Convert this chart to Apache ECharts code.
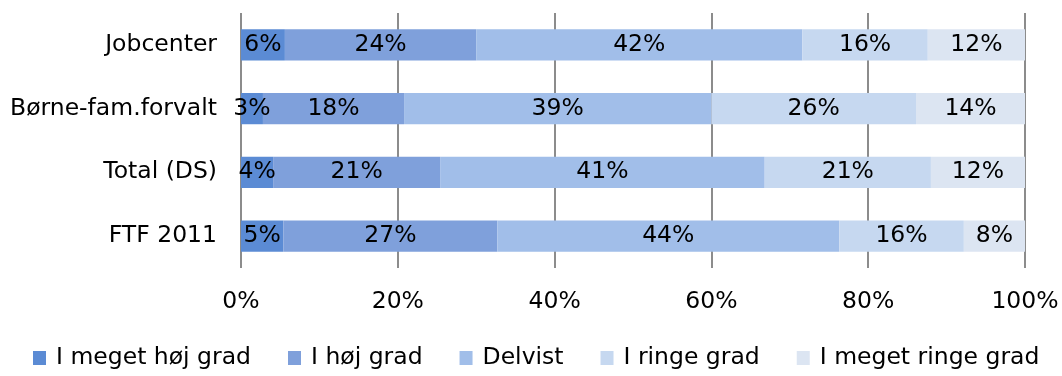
<!DOCTYPE html>
<html><head><meta charset="utf-8">
<script src="https://cdn.jsdelivr.net/npm/echarts@6/dist/echarts.min.js"></script>
<style>html,body{margin:0;padding:0;background:#fff}#c{width:1062px;height:376px}</style>
</head><body><div id="c"></div>
<script>
const categories = ['Jobcenter', 'Børne-fam.forvalt', 'Total (DS)', 'FTF 2011'];
const seriesNames = ['I meget høj grad', 'I høj grad', 'Delvist', 'I ringe grad', 'I meget ringe grad'];
const meget_hoej = [5.6, 2.8, 4.1, 5.4];
const hoej = [24.4, 18.0, 21.3, 27.3];
const delvist = [41.6, 39.2, 41.4, 43.6];
const ringe = [16.0, 26.1, 21.2, 15.9];
const meget_ringe = [12.4, 13.9, 12.0, 7.8];
const xTicks = ['0%', '20%', '40%', '60%', '80%', '100%'];
const colors = ['#5B8BD4', '#7FA0DB', '#A1BEE9', '#C6D8F0', '#DCE5F2'];
const FONT = 'DejaVu Sans';
const FS = 23.5;
const values = [meget_hoej, hoej, delvist, ringe, meget_ringe];
const chart = echarts.init(document.getElementById('c'));
chart.setOption({
  animation: false,
  textStyle: {fontFamily: FONT},
  grid: {left: 241, right: 37, top: 13, bottom: 108, containLabel: false},
  xAxis: {
    type: 'value', min: 0, max: 100, interval: 20,
    axisLine: {show: false}, axisTick: {show: false},
    splitLine: {show: true, lineStyle: {color: '#8c8c8c', width: 2}},
    axisLabel: {color: '#000', fontSize: FS, fontFamily: FONT, margin: 22,
      formatter: (v) => xTicks[Math.round(v / 20)]}
  },
  yAxis: {
    type: 'category', data: categories, inverse: true,
    axisLine: {show: false}, axisTick: {show: false},
    axisLabel: {color: '#000', fontSize: FS, fontFamily: FONT, margin: 24}
  },
  legend: {
    bottom: 1, left: 28, itemWidth: 13, itemHeight: 14, itemGap: 37,
    textStyle: {color: '#000', fontSize: FS, fontFamily: FONT, padding: [0, 0, 0, 5]},
    data: seriesNames.map(n => ({name: n, icon: 'rect'}))
  },
  series: seriesNames.map((n, i) => ({
    name: n, type: 'bar', stack: 'a', barWidth: '49%',
    data: values[i],
    itemStyle: {color: colors[i]},
    label: {show: true, position: 'inside', color: '#000', fontSize: FS, fontFamily: FONT,
      formatter: (p) => Math.round(p.value) + '%'}
  }))
});
</script></body></html>
